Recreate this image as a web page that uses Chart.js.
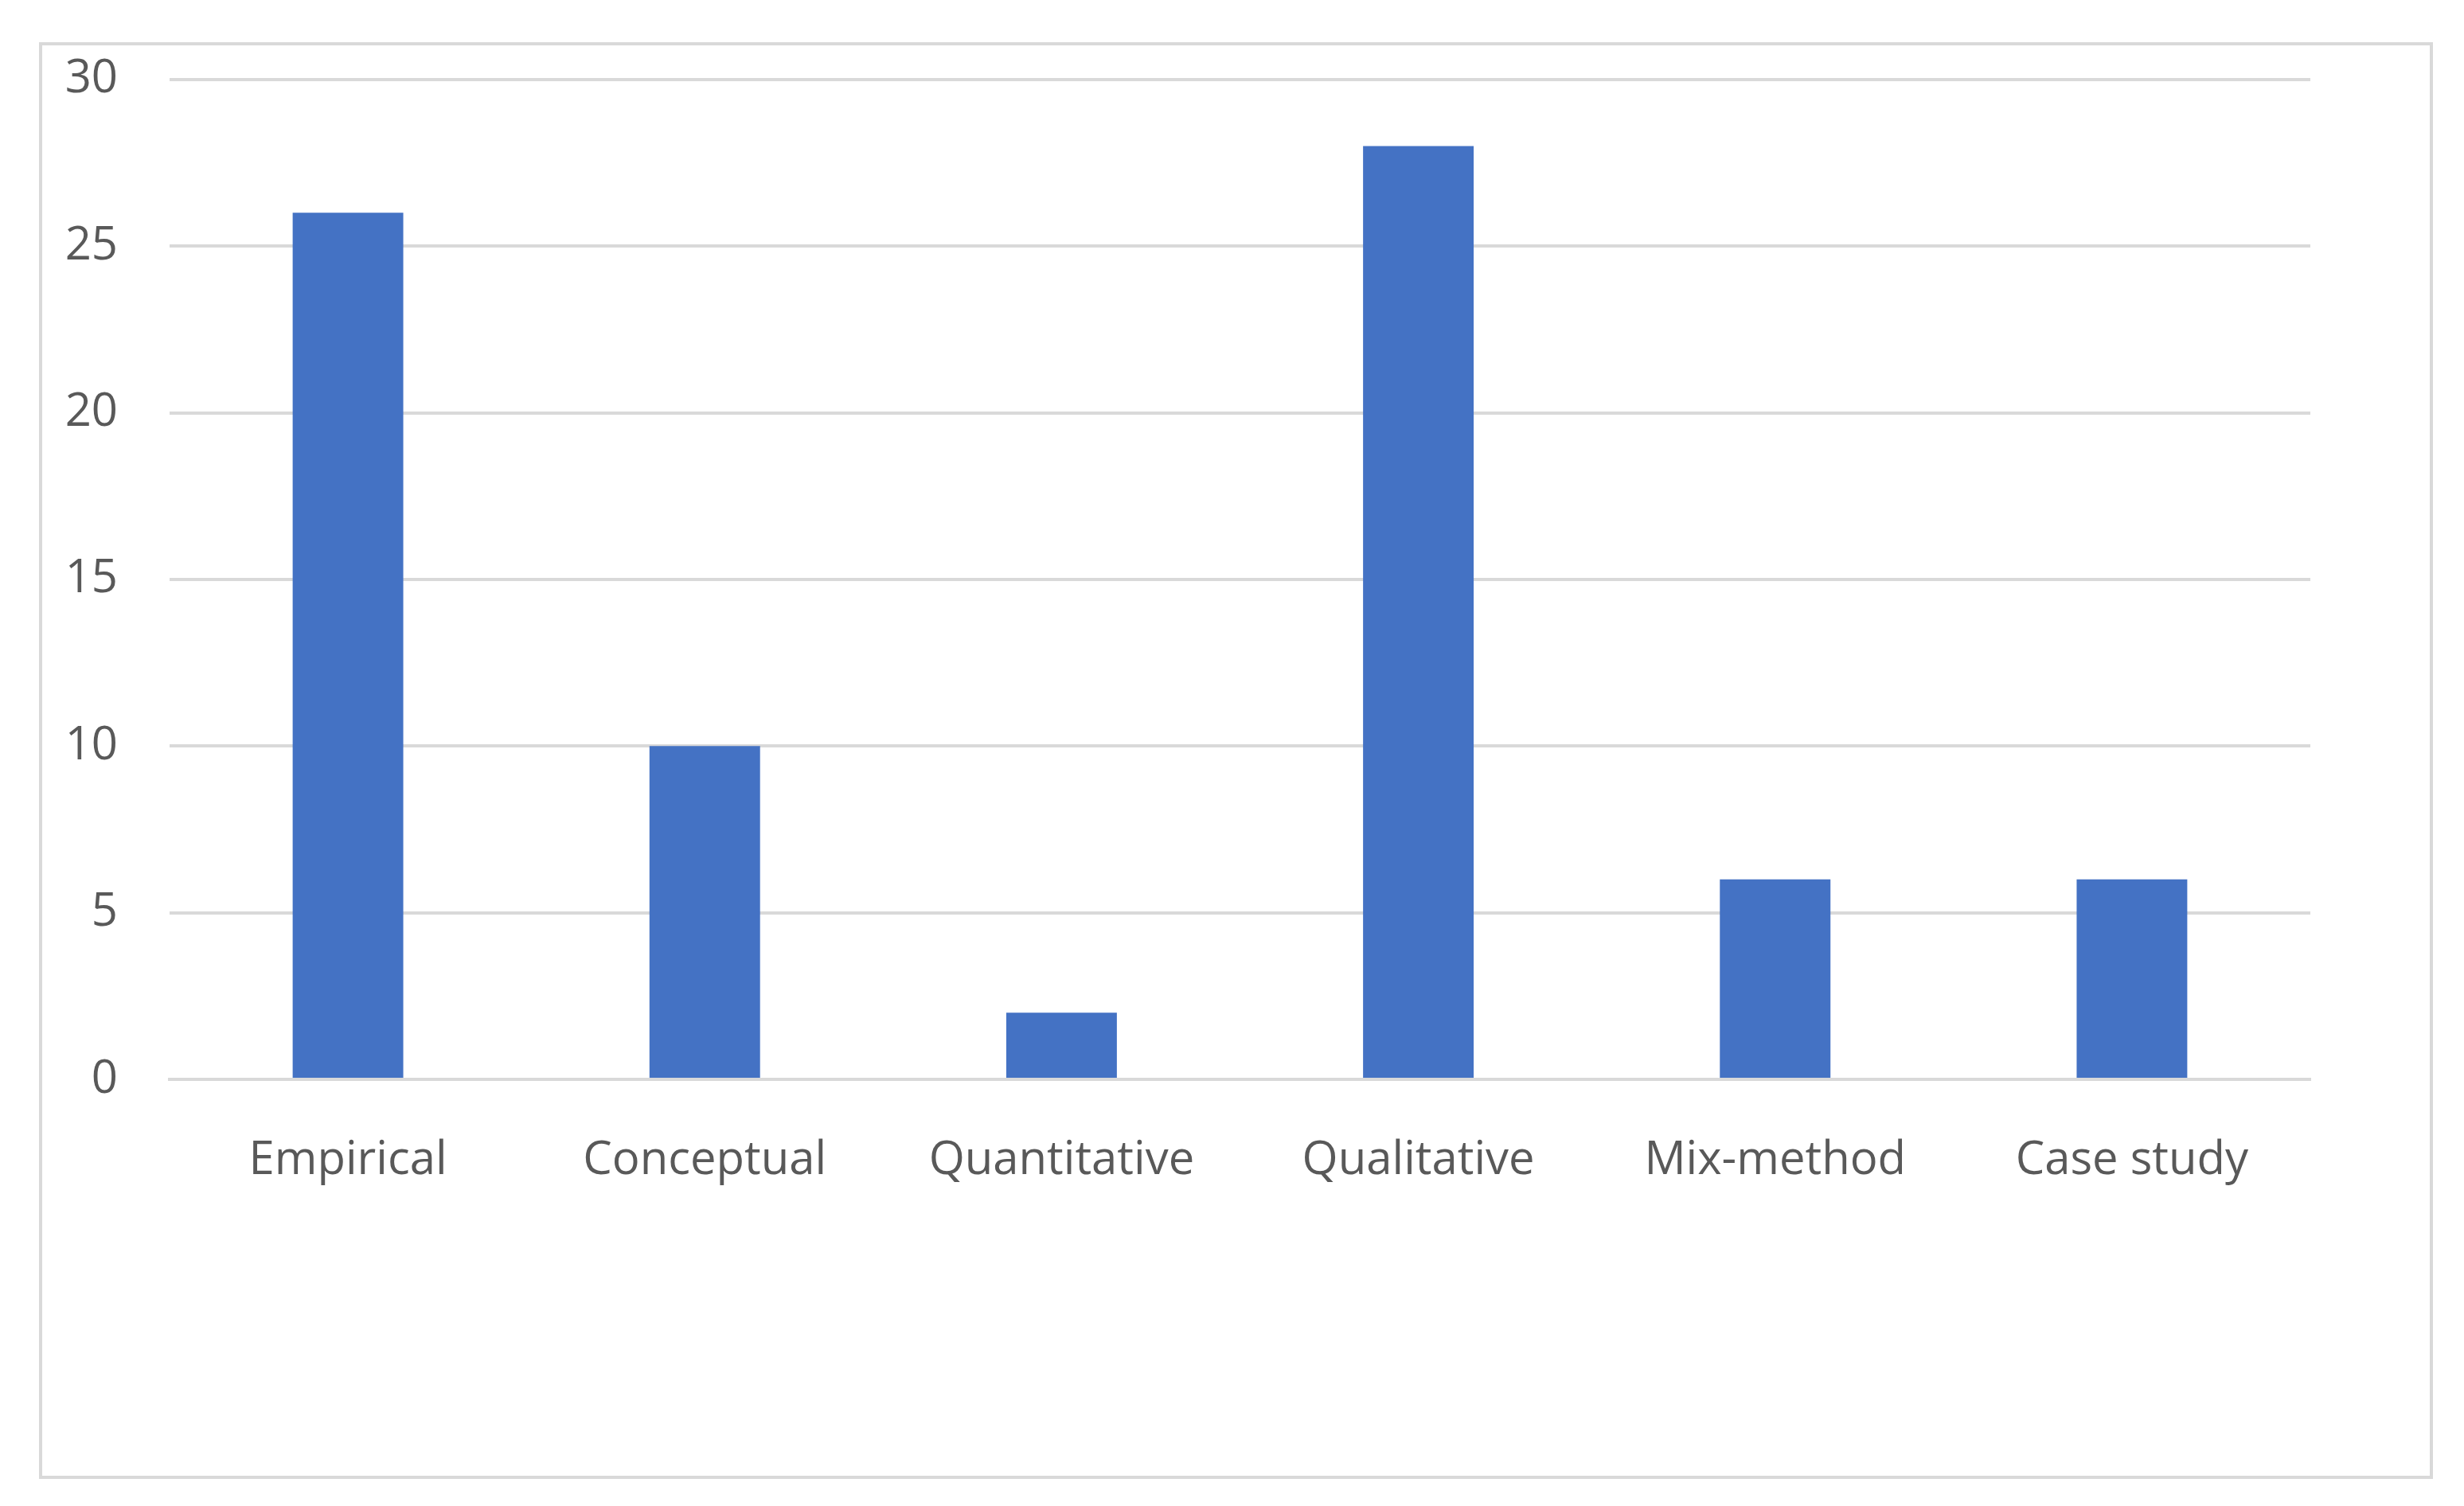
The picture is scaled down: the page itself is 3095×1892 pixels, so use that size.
<!DOCTYPE html>
<html><head><meta charset="utf-8">
<script src="https://cdn.jsdelivr.net/npm/chart.js@4/dist/chart.umd.min.js"></script>
<style>
html,body{margin:0;padding:0;background:#fff;}
#frame{position:absolute;left:49px;top:53px;width:2999px;height:1797px;border:4px solid #d9d9d9;}
#wrap{position:absolute;left:0;top:0;width:3095px;height:1892px;}
</style></head>
<body>
<div id="frame"></div>
<div id="wrap"><canvas id="c" width="3095" height="1892"></canvas></div>
<script>
const categories = ["Empirical","Conceptual","Quantitative","Qualitative","Mix-method","Case study"];
const counts = [26,10,2,28,6,6];
const yTicks = [0,5,10,15,20,25,30];
const font = {family:"'Open Sans', 'Noto Sans', sans-serif", size:58};
new Chart(document.getElementById('c'),{
  type:'bar',
  data:{labels:categories,datasets:[{data:counts,backgroundColor:'#4472C4',barPercentage:0.31,categoryPercentage:1}]},
  options:{
    responsive:false,animation:false,devicePixelRatio:1,
    layout:{padding:{top:95,right:193,bottom:386,left:0}},
    plugins:{legend:{display:false},tooltip:{enabled:false}},
    scales:{
      x:{grid:{display:false},border:{display:true,color:'#d9d9d9',width:4},
         ticks:{color:'#595959',font:font,padding:60,maxRotation:0},
         afterFit:s=>{s.height=150;}},
      y:{min:0,max:30,afterBuildTicks:s=>{s.ticks=yTicks.map(v=>({value:v}));},
         grid:{color:'#d9d9d9',lineWidth:4,drawTicks:false},border:{display:false},
         ticks:{color:'#595959',font:font,padding:65},
         afterFit:s=>{s.width=213;}}
    }
  }
});
</script>
</body></html>
